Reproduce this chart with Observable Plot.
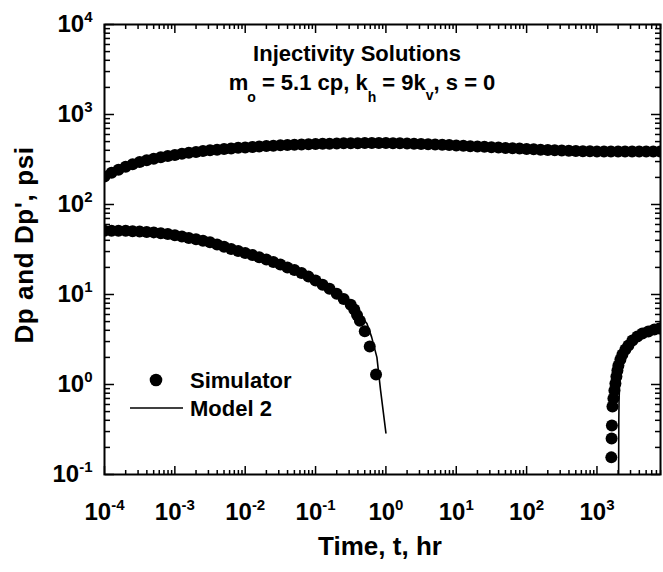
<!DOCTYPE html>
<html><head><meta charset="utf-8">
<script src="https://cdn.jsdelivr.net/npm/d3@7"></script>
<script src="https://cdn.jsdelivr.net/npm/@observablehq/plot@0.6"></script>
<style>body{margin:0;background:#fff}</style>
</head><body><div id="chart"></div>
<script>
// ---- Data ----
// Dp (simulator), upper curve
const dpTime = [
  1e-4,1.26e-4,1.58e-4,2e-4,2.51e-4,3.16e-4,3.98e-4,5.01e-4,6.31e-4,7.94e-4,
  1e-3,1.26e-3,1.58e-3,2e-3,2.51e-3,3.16e-3,3.98e-3,5.01e-3,6.31e-3,7.94e-3,
  1e-2,1.26e-2,1.58e-2,2e-2,2.51e-2,3.16e-2,3.98e-2,5.01e-2,6.31e-2,7.94e-2,
  0.1,0.126,0.158,0.2,0.251,0.316,0.398,0.501,0.631,0.794,
  1,1.26,1.58,2,2.51,3.16,3.98,5.01,6.31,7.94,
  10,12.6,15.8,20,25.1,31.6,39.8,50.1,63.1,79.4,
  100,126,158,200,251,316,398,501,631,794,
  1000,1260,1580,2000,2510,3160,3980,5010,6310,7940
];
const dpSim = [
  205,225,243,262,280,296,310,322,334,345,
  355,366,375,384,392,400,407,414,420,426,
  431,436,441,446,450,454,458,461,464,467,
  470,472,474,476,478,479,480,481,481,481,
  481,480,478,476,474,471,468,465,461,457,
  453,449,445,441,437,433,429,425,421,418,
  414,410,407,403,400,397,395,393,391,390,
  389,389,388,388,388,388,388,388,388,388
];
// Dp model (under the band)
const dpModelTime = [1e-4,3.16e-4,1e-3,3.16e-3,1e-2,3.16e-2,0.1,0.316,1,3.16,10,31.6,100,316,1000,3160,8000];
const dpModel     = [205,296,355,400,431,454,470,479,481,471,453,433,414,397,389,388,388];

// Dp' (simulator), early branch
const dpdTime = [
  1e-4,1.26e-4,1.58e-4,2e-4,2.51e-4,3.16e-4,3.98e-4,5.01e-4,6.31e-4,7.94e-4,
  1e-3,1.26e-3,1.58e-3,2e-3,2.51e-3,3.16e-3,3.98e-3,5.01e-3,6.31e-3,7.94e-3,
  1e-2,1.26e-2,1.58e-2,2e-2,2.51e-2,3.16e-2,3.98e-2,5.01e-2,6.31e-2,7.94e-2,
  0.1,0.126,0.158,0.2,0.251,0.316,
  0.355,0.389,0.427,0.501,0.589,0.724
];
const dpdSim = [
  51,51,51,51,50.5,50,49.5,49,48,47,
  45.5,44,42.5,41,39.5,38,36,34,32,30.5,
  29,27.5,26,24.5,23,21.5,20,18.7,17.3,15.8,
  14.3,12.8,11.6,10.2,8.9,7.7,
  6.8,5.9,5.1,3.9,2.65,1.29
];
// Dp' (simulator), late branch
const dpdLateTime = [1600,1615,1630,1660,1714,1771,1830,1891,1954,2018,2155,2300,2535,2797,3189,3750,4415,5370,6540,7705];
const dpdLateSim  = [0.155,0.251,0.35,0.57,0.699,0.858,1.026,1.227,1.431,1.626,1.896,2.154,2.448,2.712,3.083,3.415,3.69,3.88,4.08,4.19];

// Dp' model 2
const dpdModelTime = [1e-4,3.16e-4,1e-3,3.16e-3,1e-2,3.16e-2,0.1,0.2,0.316,0.4,0.46,0.537,0.627,0.745,0.84,1.0];
const dpdModel     = [51,50,45.5,38,29,21.5,14.3,10.3,7.8,6.4,5.5,4.76,3.36,2.0,0.86,0.29];
const dpdModelLateTime = [2030,2037,2045,2060,2090,2150,2250,2450,2800,3300,4000,5000,6500,8000];
const dpdModelLate     = [0.09,0.2,0.4,0.65,0.95,1.35,1.8,2.35,2.9,3.35,3.7,3.95,4.15,4.25];

// Axis ticks
const xMajor = [1e-4,1e-3,1e-2,1e-1,1,10,100,1000];
const yMajor = [0.1,1,10,100,1000,10000];
const mant = [2,3,4,5,6,7,8,9];
const xMinor = xMajor.flatMap(d => mant.map(m => m * d)).filter(v => v <= 8000);
const yMinor = yMajor.slice(0, -1).flatMap(d => mant.map(m => m * d));

const legendLabels = ["Simulator", "Model 2"];
const xTitle = "Time, t, hr";
const yTitle = "Dp and Dp', psi";

// ---- Tables ----
const zip = (t, v) => t.map((d, i) => ({t: d, v: v[i]}));
const upper = zip(dpTime, dpSim);
const upperModel = zip(dpModelTime, dpModel);
const lower = zip(dpdTime, dpdSim);
const lowerLate = zip(dpdLateTime, dpdLateSim);
const lowerModel = zip(dpdModelTime, dpdModel);
const lowerModelLate = zip(dpdModelLateTime, dpdModelLate);

const expFmt = d => "10^" + Math.round(Math.log10(d));
const tickOpts = {tickFormat: () => "", label: null, strokeWidth: 1.5, fill: "none"};
// inward ticks: tick direction of the opposite anchor, placed on this side of the frame
const inX = (ticks, side, size) => Plot.axisX(ticks, {anchor: side === "bottom" ? "top" : "bottom", frameAnchor: side, facetAnchor: null, tickSize: size, ...tickOpts});
const inY = (ticks, side, size) => Plot.axisY(ticks, {anchor: side === "left" ? "right" : "left", frameAnchor: side, facetAnchor: null, tickSize: size, ...tickOpts});

const plot = Plot.plot({
  width: 663, height: 572,
  marginLeft: 104, marginRight: 3, marginTop: 24, marginBottom: 98,
  x: {type: "log", domain: [1e-4, 8000]},
  y: {type: "log", domain: [0.1, 1e4]},
  style: {fontFamily: '"Liberation Sans", Arial, Helvetica, sans-serif', fontWeight: "bold", background: "white", color: "black"},
  marks: [
    Plot.line(upperModel, {x: "t", y: "v", stroke: "black", strokeWidth: 1.5, clip: true}),
    Plot.dot(upper, {x: "t", y: "v", r: 6, fill: "black", stroke: "none", clip: true}),
    Plot.dot(lower, {x: "t", y: "v", r: 6, fill: "black", stroke: "none", clip: true}),
    Plot.dot(lowerLate, {x: "t", y: "v", r: 6, fill: "black", stroke: "none", clip: true}),
    Plot.line(lowerModel, {x: "t", y: "v", stroke: "black", strokeWidth: 1.6, clip: true}),
    Plot.line(lowerModelLate, {x: "t", y: "v", stroke: "black", strokeWidth: 1.6, clip: true}),
    Plot.frame({stroke: "black", strokeWidth: 2}),
    inX(xMajor, "bottom", 9), inX(xMinor, "bottom", 5),
    inX(xMajor, "top", 9), inX(xMinor, "top", 5),
    inY(yMajor, "left", 9), inY(yMinor, "left", 5),
    inY(yMajor, "right", 9), inY(yMinor, "right", 5),
    Plot.axisX(xMajor, {anchor: "bottom", tickSize: 0, tickPadding: 28, tickFormat: expFmt, fontSize: 24, label: null}),
    Plot.axisY(yMajor, {anchor: "left", tickSize: 0, tickPadding: 12, tickFormat: expFmt, fontSize: 24, label: null})
  ]
});

document.getElementById("chart").appendChild(plot);
const svg = d3.select(plot);

// superscript exponents in tick labels
svg.selectAll("text").each(function () {
  const s = this.textContent;
  if (!/^10\^-?\d+$/.test(s)) return;
  const [b, e] = s.split("^");
  const t = d3.select(this);
  t.text(null);
  t.append("tspan").text(b);
  t.append("tspan").attr("dy", "-10").attr("font-size", 15).text(e);
});

// axis titles
svg.append("text").attr("x", 380).attr("y", 555).attr("text-anchor", "middle")
  .attr("font-size", 26).attr("fill", "black").text(xTitle);
svg.append("text").attr("transform", "translate(33,245) rotate(-90)").attr("text-anchor", "middle")
  .attr("font-size", 26).attr("letter-spacing", 0.6).attr("fill", "black").text(yTitle);

// annotation title
svg.append("text").attr("x", 357).attr("y", 61).attr("text-anchor", "middle")
  .attr("font-size", 22).text("Injectivity Solutions");
const t2 = svg.append("text").attr("x", 362).attr("y", 90).attr("text-anchor", "middle").attr("font-size", 22);
t2.append("tspan").text("m");
t2.append("tspan").attr("font-size", 14).attr("dx", -1).attr("dy", 12).text("o");
t2.append("tspan").attr("dy", -12).text(" = 5.1 cp, k");
t2.append("tspan").attr("font-size", 14).attr("dy", 12).text("h");
t2.append("tspan").attr("dy", -12).text(" = 9k");
t2.append("tspan").attr("font-size", 14).attr("dy", 10).text("v");
t2.append("tspan").attr("dy", -10).text(", s = 0");

// legend
const lg = svg.append("g").attr("font-size", 22).attr("text-anchor", "start");
lg.append("circle").attr("cx", 156).attr("cy", 380).attr("r", 6.3).attr("fill", "black");
lg.append("text").attr("x", 190).attr("y", 388).text(legendLabels[0]);
lg.append("line").attr("x1", 130).attr("x2", 183).attr("y1", 408).attr("y2", 408)
  .attr("stroke", "black").attr("stroke-width", 1.6);
lg.append("text").attr("x", 190).attr("y", 416).text(legendLabels[1]);
</script>
</body></html>
